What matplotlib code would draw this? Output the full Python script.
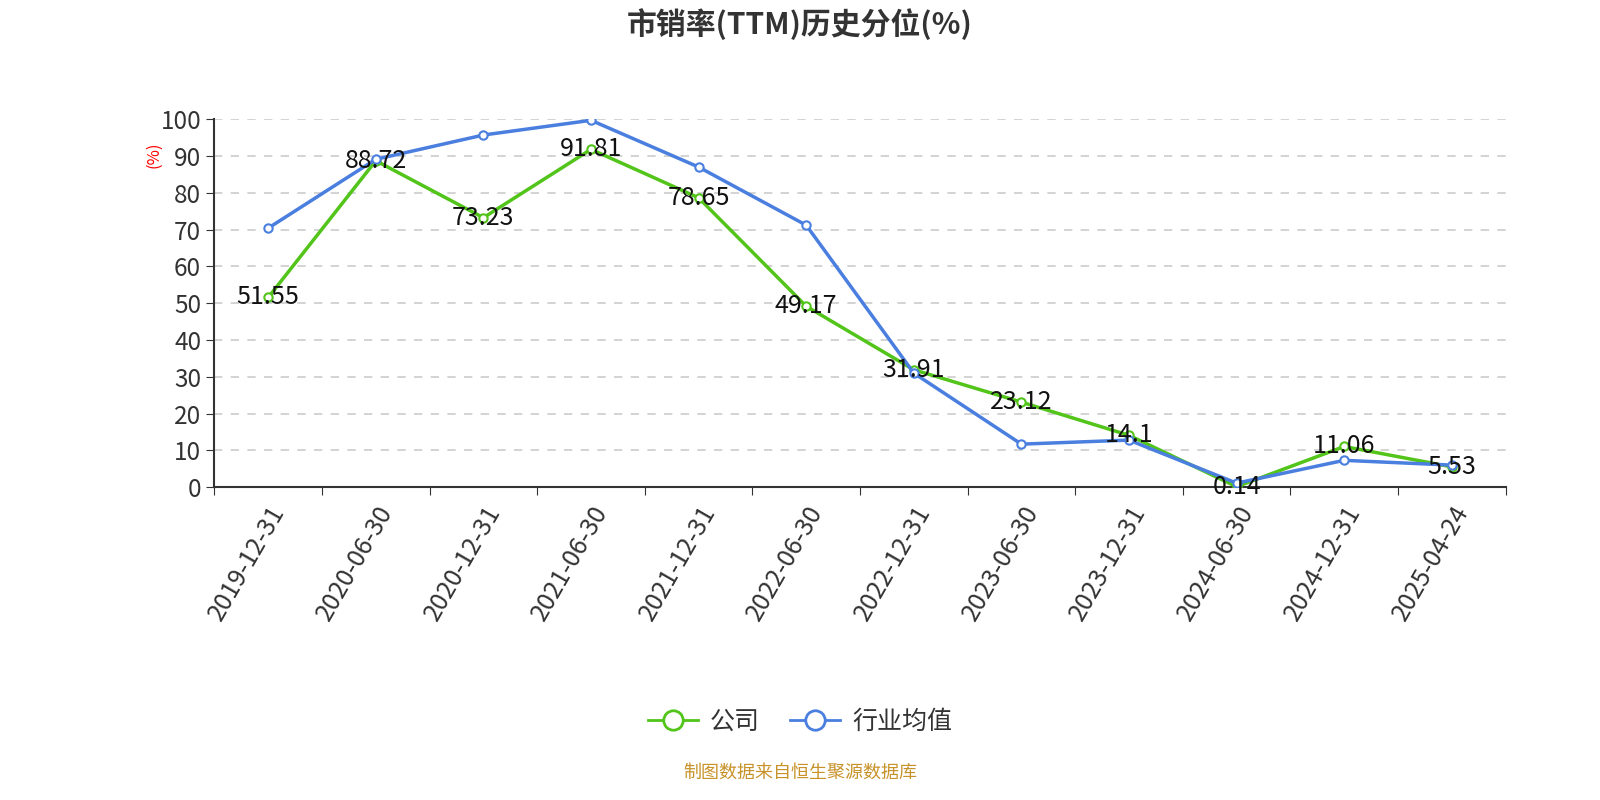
import matplotlib
matplotlib.use('Agg')
import matplotlib.pyplot as plt
from matplotlib.lines import Line2D

plt.rcParams['font.family'] = ['Noto Sans CJK SC', 'DejaVu Sans']

dates = ['2019-12-31', '2020-06-30', '2020-12-31', '2021-06-30', '2021-12-31', '2022-06-30',
         '2022-12-31', '2023-06-30', '2023-12-31', '2024-06-30', '2024-12-31', '2025-04-24']
company = [51.55, 88.72, 73.23, 91.81, 78.65, 49.17, 31.91, 23.12, 14.1, 0.14, 11.06, 5.53]
industry = [70.4, 89.1, 95.7, 99.7, 87.0, 71.2, 31.0, 11.7, 12.8, 1.1, 7.3, 6.0]

green = '#52c41a'
blue = '#4a7fe0'

fig = plt.figure(figsize=(16, 8), dpi=100)
ax = fig.add_axes([0.134, 0.391, 0.807, 0.46])

x = list(range(len(dates)))
ax.plot(x, company, color=green, lw=2.5, marker='o', ms=6, mfc='white', mec=green, mew=1.5, zorder=3)
ax.plot(x, industry, color=blue, lw=2.5, marker='o', ms=6, mfc='white', mec=blue, mew=1.5, zorder=4)

for xi, v in zip(x, company):
    ax.text(xi, v, f'{v:g}', ha='center', va='center', fontsize=18, color='#111111', zorder=5)

ax.set_xlim(-0.5, len(dates) - 0.5)
ax.set_ylim(0, 100)
ax.set_yticks(range(0, 101, 10))
ax.set_xticks([i - 0.5 for i in range(len(dates) + 1)], minor=False)
ax.set_xticklabels([])
ax.set_xticks(x, minor=True)
ax.set_xticklabels(dates, minor=True, rotation=60, ha='right', rotation_mode='anchor',
                   fontsize=18, color='#333333')
ax.tick_params(axis='x', which='minor', length=0, pad=10)
ax.tick_params(axis='x', which='major', length=6, color='#333333')
ax.tick_params(axis='y', length=6, color='#333333', labelsize=17.5, labelcolor='#333333')

ax.grid(axis='y', ls=(0, (5, 5)), color='#cccccc', lw=1.2)
ax.set_axisbelow(True)
for s in ['top', 'right']:
    ax.spines[s].set_visible(False)
ax.spines['left'].set_color('#333333')
ax.spines['bottom'].set_color('#333333')
ax.spines['left'].set_linewidth(1.5)
ax.spines['bottom'].set_linewidth(1.5)

fig.text(0.0963, 0.806, '(%)', color='red', rotation=90, ha='center', va='center', fontsize=12)

fig.text(0.5, 0.97, '市销率(TTM)历史分位(%)', ha='center', va='center', fontsize=21.5,
         fontweight='bold', color='#333333')

handles = [Line2D([], [], color=green, lw=2, marker='o', ms=14, mfc='white', mec=green, mew=2),
           Line2D([], [], color=blue, lw=2, marker='o', ms=14, mfc='white', mec=blue, mew=2)]
fig.legend(handles, ['公司', '行业均值'], loc='center', bbox_to_anchor=(0.5, 0.098), ncol=2,
           frameon=False, fontsize=18, handlelength=2.0, columnspacing=1.2, handletextpad=0.5,
           labelcolor='#333333')

fig.text(0.5, 0.034, '制图数据来自恒生聚源数据库', ha='center', va='center', fontsize=13, color='#c8922a')

fig.savefig('out.png', dpi=100)
